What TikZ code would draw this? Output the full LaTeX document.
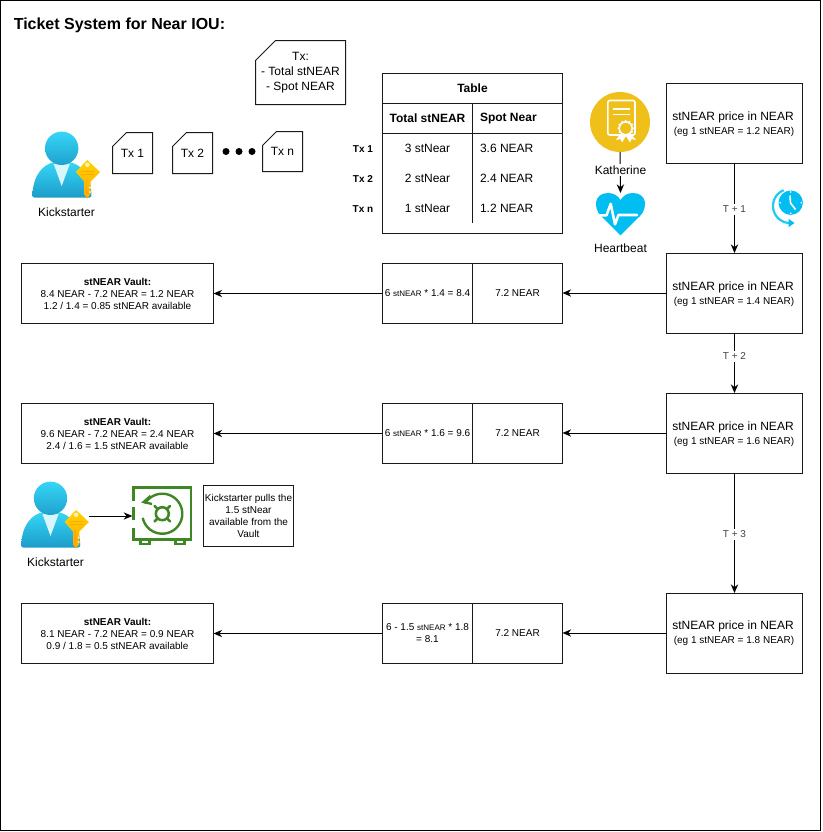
\documentclass[tikz,border=0pt]{standalone}
\usepackage{fontspec}
\setmainfont{Liberation Sans}
\usetikzlibrary{arrows.meta,calc}
\definecolor{lineblk}{HTML}{1A1A1A}
\definecolor{safegreen}{HTML}{3F8624}
\definecolor{certgold}{HTML}{EFC01A}
\definecolor{skyblue}{HTML}{00BEF2}
\definecolor{personlight}{HTML}{36D6F7}
\definecolor{persondark}{HTML}{1C9CC9}
\definecolor{keylight}{HTML}{FFD400}
\definecolor{keydark}{HTML}{FFA800}
\newcommand{\fsN}{\fontsize{9pt}{11.25pt}\selectfont}
\newcommand{\fsS}{\fontsize{7.5pt}{9pt}\selectfont}
\newcommand{\fsT}{\fontsize{6pt}{9pt}\selectfont}
\newcommand{\lowr}[1]{\raisebox{-.6pt}{#1}}
\tikzset{
  wh/.style 2 args={minimum width=#1*0.75pt,minimum height=#2*0.75pt},
  boxn/.style={draw=lineblk,line width=.75pt,fill=white,inner sep=0pt,outer sep=0pt,align=center},
  ghost/.style={inner sep=0pt,outer sep=0pt},
  pricebox/.style={boxn,wh={136}{80},font=\fsN},
  midbox/.style={boxn,wh={90}{60},font=\fsS},
  vaultbox/.style={boxn,wh={192}{60},font=\fsS},
  lbl/.style={inner sep=0pt,outer sep=0pt,align=center,font=\fsN},
  cell/.style={inner sep=0pt,outer sep=0pt,font=\fsN},
  rowlbl/.style={inner sep=0pt,font=\fsS\bfseries},
  steplbl/.style={fill=white,inner xsep=1.5pt,inner ysep=1.5pt,font=\fsS,text=black!75},
  conn/.style={draw=black,line width=.75pt,-{Stealth[length=6.5pt,width=5.5pt]}},
}
% name, x, y, w, h, cut, text
\newcommand{\docbox}[7]{%
  \node[ghost,wh={#4}{#5},anchor=north west,align=center,font=\fsN] (#1) at (#2,#3) {#7};
  \draw[draw=lineblk,line width=.75pt] ($(#2,#3)+(#6,0)$) -- ++(#4-#6,0) -- ++(0,#5) -- ++(-#4,0) -- ++(0,-#5+#6) -- cycle;
}
\newcommand{\personicon}{%
  \shade[top color=personlight,bottom color=persondark,rounded corners=1.5] (32.3,197.5) .. controls (33,174) and (44,164) .. (56,162) -- (68,162) .. controls (80,164) and (91,174) .. (91.5,197.5) -- cycle;
  \fill[white!80!personlight] (53.5,163.5) -- (70,163.5) -- (61.7,186) -- cycle;
  \shade[top color=personlight,bottom color=persondark!90!personlight] (61.7,148.3) circle[radius=16.7];
  \shade[top color=keylight,bottom color=keydark] (87.3,160) -- (100,172) -- (90.5,181.5) -- (90.5,194) -- (87.3,198.5) -- (84.2,194.5) -- (84.2,181.5) -- (75.7,172) -- cycle;
  \fill[white!70!keylight] (87.3,164.8) circle[radius=2.2];
  \draw[keydark,line width=.7pt] (81,171.2) -- (94,171.2) (81,174.2) -- (94,174.2);
  \draw[keydark,line width=.8pt] (86.2,180) -- (86.2,195);
  \fill[white] (90.5,186.5) -- (88.8,187.5) -- (90.5,188.5) -- cycle (90.5,191) -- (88.8,192) -- (90.5,193) -- cycle;
}
\begin{document}
\begin{tikzpicture}[x=0.75pt,y=-0.75pt]
\useasboundingbox (0,0) rectangle (822,832);
\draw[black,line width=1.1pt] (0.7,0.4) rectangle (820.6,830.4);

\node[inner sep=0pt,anchor=west,font=\fontsize{12pt}{15pt}\selectfont\bfseries] (title) at (13.5,25) {Ticket System for Near IOU:};

% Tx documents
\docbox{txinfo}{255.5}{40.5}{90}{64}{20}{Tx:\\- Total stNEAR\\- Spot NEAR}
\docbox{txa}{112.5}{132.5}{40}{41}{14}{\lowr{Tx 1}}
\docbox{txb}{172.5}{132.5}{40}{41}{14}{\lowr{Tx 2}}
\docbox{txc}{262.5}{131.5}{40}{40}{14}{\lowr{Tx n}}
\fill (226,151.5) circle[radius=3.5] (239,151.5) circle[radius=3.5] (252,151.5) circle[radius=3.5];

% Kickstarter 1
\personicon
\node[lbl] (ksa) at (66.5,212.5) {Kickstarter};

% Table
\node[boxn,wh={180}{160},anchor=north west] (tbl) at (382.5,73.5) {};
\draw[lineblk,line width=.75pt] (382.5,103) -- (562.5,103) (382.5,133) -- (562.5,133) (472.5,103) -- (472.5,223);
\node[cell,font=\fsN\bfseries] (tblh) at (472.5,88.5) {Table};
\node[cell,font=\fsN\bfseries] (hcola) at (427.5,118.5) {Total stNEAR};
\node[cell,font=\fsN\bfseries,anchor=west] (hcolb) at (480,118.5) {Spot Near};
\node[cell] (ra) at (427.5,148.5) {3 stNear};
\node[cell] (rb) at (427.5,178.5) {2 stNear};
\node[cell] (rc) at (427.5,208.5) {1 stNear};
\node[cell,anchor=west] (sa) at (480,148.5) {3.6 NEAR};
\node[cell,anchor=west] (sb) at (480,178.5) {2.4 NEAR};
\node[cell,anchor=west] (sc) at (480,208.5) {1.2 NEAR};
\node[rowlbl] (la) at (363,149) {Tx 1};
\node[rowlbl] (lb) at (363,179) {Tx 2};
\node[rowlbl] (lc) at (363,209) {Tx n};

% Katherine
\node[circle,fill=certgold,wh={60}{60},inner sep=0pt,outer sep=0pt] (kath) at (620,122) {};
\draw[white,line width=1.2pt,rounded corners=1.5] (607.8,100.5) rectangle (635,135);
\draw[white,line width=1.2pt] (612.5,109) -- (630,109) (612.5,114.3) -- (630,114.3);
\fill[white] (620,134) -- (616,140) -- (620.5,139) -- (622,142.5) -- (626,136) -- cycle (631,134) -- (636,140) -- (631.5,139) -- (630,142.5) -- (626,136) -- cycle;
\draw[white,fill=certgold,line width=1.3pt] (625.7,128.3) circle[radius=6.4];
\foreach \a in {0,30,...,330} \fill[white] ({625.7+7.4*cos(\a)},{128.3+7.4*sin(\a)}) circle[radius=1];
\fill[certgold] (625.7,128.3) circle[radius=5.5];

% Heartbeat
\node[ghost,wh={50}{42}] (heart) at (620.5,214) {};
\fill[skyblue] (620.5,235.3) -- (601,216) .. controls (593,208) and (594,193) .. (608,193) .. controls (614,193) and (618,196) .. (620.5,200) .. controls (623,196) and (627,193) .. (633,193) .. controls (647,193) and (648,208) .. (640,216) -- cycle;
\draw[white,line width=1.9pt,line join=round,line cap=round] (596,215.3) -- (606.5,215.3) -- (610.7,203.8) -- (615,224.3) -- (618.5,215) -- (637,215);
\draw[conn] (kath.south) -- (heart.north);
\node[lbl,fill=white,inner ysep=1pt] (kathl) at (620.5,170) {Katherine};
\node[lbl] (heartl) at (620.5,248) {Heartbeat};

% Price boxes
\node[pricebox] (p1) at (734.5,123) {};
\node[pricebox] (p2) at (734.5,293) {};
\node[pricebox] (p3) at (734.5,433) {};
\node[pricebox] (p4) at (734.5,633) {};
\foreach \n/\v/\y in {p1/1.2/117,p2/1.4/287,p3/1.6/427,p4/1.8/626}{
  \node[lbl] (\n a) at (733,\y) {stNEAR price in NEAR};
  \node[lbl,font=\fsS] (\n b) at (734,\y+15) {(eg 1 stNEAR = \v{} NEAR)};
}
\draw[conn] (p1) -- (p2);
\draw[conn] (p2) -- (p3);
\draw[conn] (p3) -- (p4);
\node[steplbl] (t1) at (734.5,209.5) {T + 1};
\node[steplbl] (t2) at (734.5,356.5) {T + 2};
\node[steplbl] (t3) at (734.5,534.5) {T + 3};

% Clock
\draw[skyblue!85,line width=1.7pt] plot[smooth,domain=248:90,samples=30] ({790+17*cos(\x)},{206+17*sin(\x)});
\fill[skyblue] (788.5,218.8) -- (794.5,223) -- (788.5,227.2) -- cycle;
\fill[skyblue] (790.7,202.7) circle[radius=12.2];
\draw[white,line width=1.2pt,line join=round] (790,195.5) -- (790.5,203) -- (795.5,209.5);
\fill[white] (790.7,192) circle[radius=.9] (801.2,202.7) circle[radius=.9] (790.7,213.2) circle[radius=.9] (780.2,202.7) circle[radius=.9];

% Middle boxes
\node[midbox] (m1l) at (427.5,293.5) {\lowr{6 {\fsT stNEAR} * 1.4 = 8.4}};
\node[midbox] (m1r) at (517.5,293.5) {\lowr{7.2 NEAR}};
\node[midbox] (m2l) at (427.5,433.5) {\lowr{6 {\fsT stNEAR} * 1.6 = 9.6}};
\node[midbox] (m2r) at (517.5,433.5) {\lowr{7.2 NEAR}};
\node[midbox] (m3l) at (427.5,633.5) {6 - 1.5 {\fsT stNEAR} * 1.8\\= 8.1};
\node[midbox] (m3r) at (517.5,633.5) {7.2 NEAR};

% Vault boxes
\node[vaultbox] (v1) at (117.5,293.5) {{\bfseries stNEAR Vault:}\\8.4 NEAR - 7.2 NEAR = 1.2 NEAR\\1.2 / 1.4 = 0.85 stNEAR available};
\node[vaultbox] (v2) at (117.5,433.5) {{\bfseries stNEAR Vault:}\\9.6 NEAR - 7.2 NEAR = 2.4 NEAR\\2.4 / 1.6 = 1.5 stNEAR available};
\node[vaultbox] (v3) at (117.5,633.5) {{\bfseries stNEAR Vault:}\\8.1 NEAR - 7.2 NEAR = 0.9 NEAR\\0.9 / 1.8 = 0.5 stNEAR available};

\draw[conn] (p2.west) -- (p2.west -| m1r.east);
\draw[conn] (p3.west) -- (p3.west -| m2r.east);
\draw[conn] (p4.west) -- (p4.west -| m3r.east);
\draw[conn] (m1l.west) -- (m1l.west -| v1.east);
\draw[conn] (m2l.west) -- (m2l.west -| v2.east);
\draw[conn] (m3l.west) -- (m3l.west -| v3.east);

% Kickstarter 2
\begin{scope}[shift={(-11.2,350)}]
\personicon
\end{scope}
\node[ghost,wh={68}{68}] (ksiconb) at (55,516) {};
\node[lbl] (ksb) at (55.5,562.5) {Kickstarter};

% Safe
\node[ghost,wh={60}{60}] (safe) at (162.3,516) {};
\begin{scope}[safegreen,line width=2pt]
\draw (133.5,501) -- (133.5,487.5) -- (191,487.5) -- (191,539.5) -- (133.5,539.5) -- (133.5,528);
\draw (133.5,506.5) -- (133.5,519.5);
\draw[line width=1.6pt] (140.5,540) -- (140.5,544) -- (149.5,544) -- (149.5,540) (175.5,540) -- (175.5,544) -- (184.5,544) -- (184.5,540);
\draw[line width=1.8pt] plot[smooth,domain=-150:168,samples=50] ({162.3+20*cos(\x)},{513.7+20*sin(\x)});
\draw[line width=1.7pt] (150.5,495.8) -- (143.6,502) -- (152,504);
\draw[line width=1.9pt] (162.3,513.7) circle[radius=6.5];
\foreach \a in {45,135,225,315} \draw[line width=1.9pt,line cap=round] ({162.3+6.5*cos(\a)},{513.7+6.5*sin(\a)}) -- ({162.3+11*cos(\a)},{513.7+11*sin(\a)});
\end{scope}
\draw[conn] (ksiconb.east) -- (safe.west);

% Note
\node[boxn,wh={90}{61},font=\fsS] (note) at (248.5,515.5) {Kickstarter pulls the\\1.5 stNear\\available from the\\Vault};
\end{tikzpicture}
\end{document}
